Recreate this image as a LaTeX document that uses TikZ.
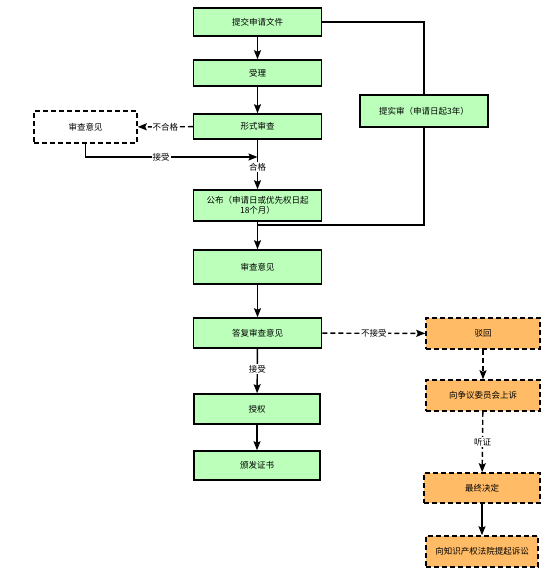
\documentclass[tikz,border=0pt]{standalone}
\usepackage{fontspec}
\setmainfont{Noto Sans CJK SC}
\usetikzlibrary{arrows.meta}
\definecolor{gfill}{HTML}{BBFFBB}
\definecolor{ofill}{HTML}{FFBB66}
\begin{document}
\begin{tikzpicture}[x=1pt,y=-1pt,
  every node/.style={font=\fontsize{8.5}{10}\selectfont},
  gbox/.style={draw=black,line width=1.5pt,fill=gfill,minimum width=128pt,minimum height=#1,inner sep=0pt,align=center},
  gbox/.default=28pt,
  obox/.style={draw=black,line width=1.5pt,dashed,dash pattern=on 5pt off 3pt,fill=ofill,minimum width=114pt,minimum height=31pt,inner sep=0pt},
  wbox/.style={draw=black,line width=1.5pt,dash pattern=on 5pt off 3pt,fill=white,minimum width=103pt,minimum height=32pt,inner sep=0pt},
  arr/.style={line width=1.4pt,-{Stealth[length=9pt,width=7pt,inset=1.5pt]}},
  ln/.style={line width=1.4pt},
  dsh/.style={dash pattern=on 5pt off 3pt},
  lbl/.style={fill=white,inner sep=1pt}]
\useasboundingbox (0,0) rectangle (558,578);
\node[gbox] (submit) at (257.5,22) {提交申请文件};
\node[gbox=26pt] (accept) at (257.5,73) {受理};
\node[gbox=25pt] (formal) at (257.5,126.5) {形式审查};
\node[wbox] (opin1) at (85.5,127) {审查意见};
\node[gbox=31pt] (publish) at (257.5,205.5) {公布（申请日或优先权日起\\18个月）};
\node[gbox=34pt] (opin2) at (257.5,267) {审查意见};
\node[gbox=30pt] (reply) at (257.5,333) {答复审查意见};
\node[gbox=30pt,minimum width=126pt] (grant) at (257,409) {授权};
\node[gbox=29pt,minimum width=126pt] (cert) at (257,465.5) {颁发证书};
\node[gbox=32pt] (exam) at (424,111) {提实审（申请日起3年）};
\node[obox] (reject) at (483,333.5) {驳回};
\node[obox] (appeal) at (483,395.5) {向争议委员会上诉};
\node[obox,minimum width=116pt,minimum height=30pt] (final) at (482,488) {最终决定};
\node[obox,minimum width=112pt] (court) at (482,551.5) {向知识产权法院提起诉讼};
\coordinate (j1) at (257.5,157);
\coordinate (j2) at (257.5,225);
\draw[arr] (submit) -- (accept);
\draw[arr] (accept) -- (formal);
\draw[arr,dsh] (formal) -- node[lbl]{不合格} (opin1);
\draw[arr] (opin1.south) |- node[pos=0.72,lbl]{接受} (j1);
\draw[arr] (formal) -- node[pos=0.55,lbl]{合格} (publish);
\draw[ln] (submit.east) -| (exam.north);
\draw[ln] (exam.south) |- (j2);
\draw[arr] (publish) -- (opin2);
\draw[arr] (opin2) -- (reply);
\draw[arr] (reply) -- node[pos=0.45,lbl]{接受} (grant);
\draw[arr] (grant) -- (cert);
\draw[arr,dsh] (reply) -- node[lbl]{不接受} (reject);
\draw[arr,dsh] (reject) -- (appeal);
\draw[arr,dsh] (appeal) -- node[lbl]{听证} (final);
\draw[arr] (final) -- (court);
\end{tikzpicture}
\end{document}
